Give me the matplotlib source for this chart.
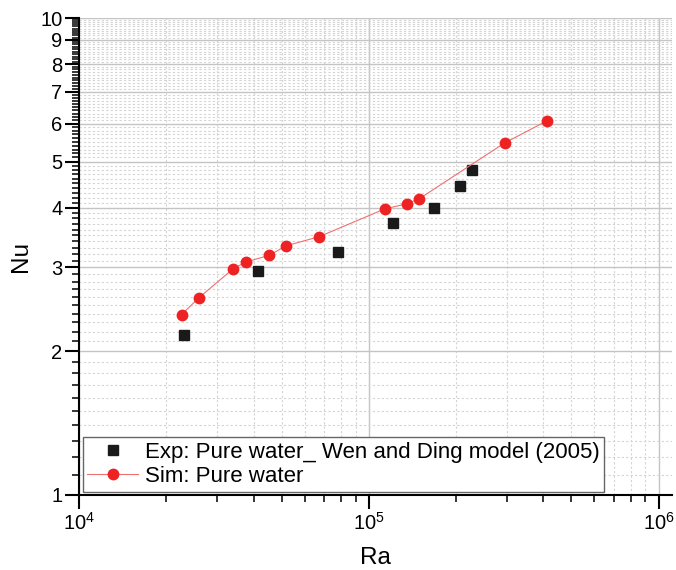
import numpy as np
import matplotlib.pyplot as plt
from matplotlib.ticker import FixedLocator, NullFormatter, LogLocator

plt.rcParams['font.family'] = ['Liberation Sans', 'DejaVu Sans']

# Exp: Pure water_ Wen and Ding model (2005)
ra_exp = [23000, 41500, 78100, 121000, 167500, 206000, 226000]
nu_exp = [2.165, 2.95, 3.23, 3.71, 4.00, 4.44, 4.79]

# Sim: Pure water
ra_sim = [22600, 25900, 34000, 37700, 45300, 51800, 67400,
          113500, 135500, 149300, 293800, 410000]
nu_sim = [2.39, 2.59, 2.98, 3.08, 3.18, 3.33, 3.48,
          3.98, 4.08, 4.18, 5.47, 6.08]

y_major = [1, 2, 3, 4, 5, 6, 7, 8, 9, 10]

fig = plt.figure(figsize=(6.76, 5.70), dpi=100)
ax = fig.add_axes([0.1169, 0.1316, 0.877, 0.8368])

ax.plot(ra_exp, nu_exp, 's', color='#1a1a1a', markersize=7.3, linestyle='none',
        label='Exp: Pure water_ Wen and Ding model (2005)', zorder=4)
ax.plot(ra_sim, nu_sim, '-o', color='#f07070', markerfacecolor='#ee2222',
        markersize=8.5, linewidth=0.8, markeredgewidth=0,
        label='Sim: Pure water', zorder=5)

ax.set_xscale('log')
ax.set_yscale('log')
ax.set_xlim(1e4, 1.11e6)
ax.set_ylim(1, 10)

# ticks
ax.yaxis.set_major_locator(FixedLocator(y_major))
ax.set_yticklabels([str(v) for v in y_major])
y_minor = [round(v, 1) for v in np.arange(1.1, 10.0, 0.1) if abs(v - round(v)) > 1e-6]
ax.yaxis.set_minor_locator(FixedLocator(y_minor))
ax.yaxis.set_minor_formatter(NullFormatter())
ax.xaxis.set_major_locator(LogLocator(base=10, numticks=10))
ax.xaxis.set_minor_locator(LogLocator(base=10, subs=np.arange(2, 10), numticks=20))
ax.xaxis.set_minor_formatter(NullFormatter())

ax.tick_params(which='major', direction='out', length=10, width=1.5,
               labelsize=14.5, colors='black', pad=2)
ax.tick_params(which='minor', direction='out', length=5, width=1.1)

# grid
ax.grid(True, which='major', color='#c4c4c4', linewidth=1.0, linestyle='-')
ax.grid(True, which='minor', color='#d4d4d4', linewidth=0.8, linestyle=(0, (2, 2)))
ax.set_axisbelow(True)

for s in ['top', 'right']:
    ax.spines[s].set_visible(False)
for s in ['left', 'bottom']:
    ax.spines[s].set_linewidth(1.5)
    ax.spines[s].set_color('black')

ax.set_xlabel('Ra', fontsize=17.5, labelpad=10)
ax.set_ylabel('Nu', fontsize=17.5, labelpad=6)

leg = ax.legend(loc='lower left', bbox_to_anchor=(0.006, 0.007), fontsize=16,
                fancybox=False, framealpha=1, edgecolor='#666666',
                handlelength=2.3, borderpad=0.2, labelspacing=0.15,
                handletextpad=0.3, borderaxespad=0)
leg.get_frame().set_linewidth(1.0)

fig.savefig('out.png', dpi=100)
